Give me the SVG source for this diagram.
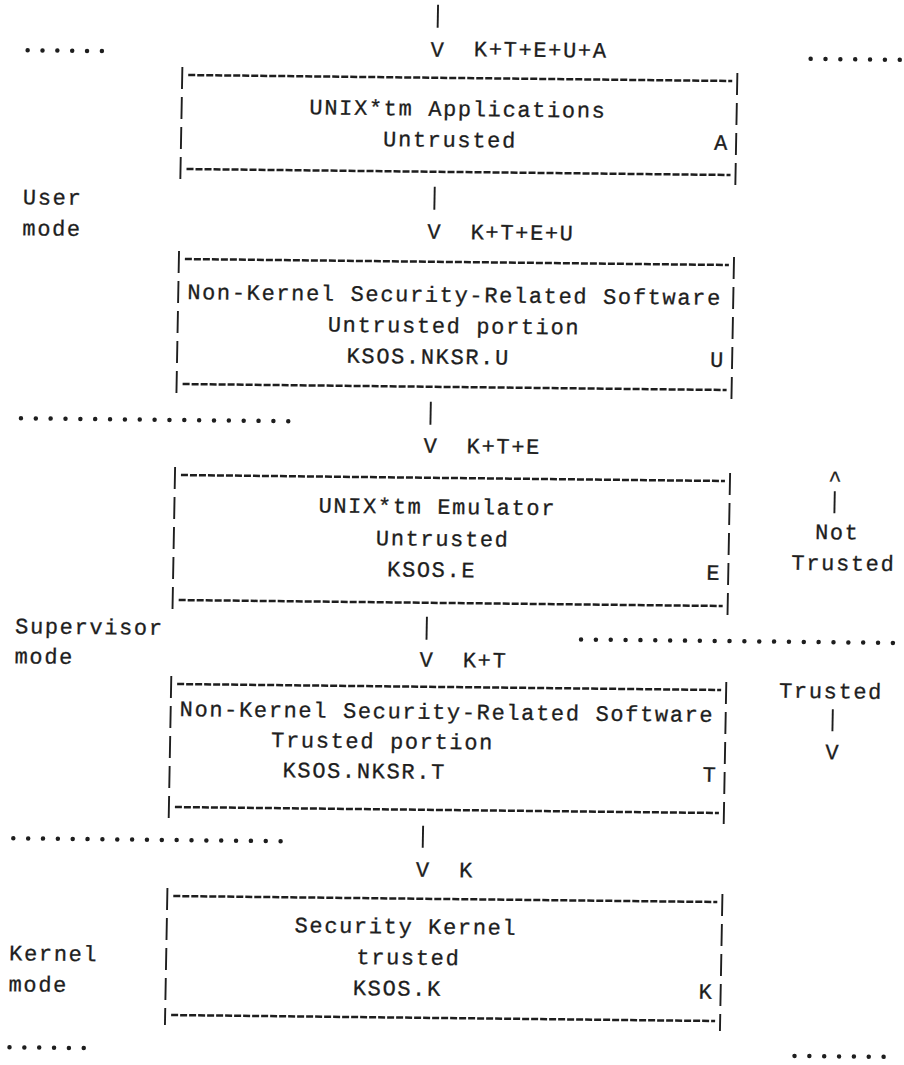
<svg xmlns="http://www.w3.org/2000/svg" width="904" height="1065" viewBox="0 0 904 1065">
<style>
text { font-family: "Liberation Mono", "DejaVu Sans Mono", monospace; font-size: 22px; letter-spacing: 1.65px; fill: #1e1e1e; stroke: #1e1e1e; stroke-width: 0.3px; }
.side { stroke: #1e1e1e; stroke-width: 1.9; stroke-dasharray: 22 8; fill: none; }
.edge { stroke: #1e1e1e; stroke-width: 2.5; stroke-dasharray: 7 2; fill: none; }
.bar { stroke: #1e1e1e; stroke-width: 1.9; fill: none; }
.dots { stroke: #1e1e1e; stroke-width: 4.5; stroke-linecap: round; stroke-dasharray: 0 14.85; fill: none; }
</style>
<rect width="904" height="1065" fill="#ffffff"/>
<g transform="matrix(1 0.011 -0.0182 1 9.65 -4.95)">
  <g id="separators">
    <line class="dots" x1="19" y1="55" x2="94.25" y2="55"/>
    <line class="dots" x1="802" y1="55" x2="892.1" y2="55"/>
    <line class="dots" x1="19" y1="423" x2="287.3" y2="423"/>
    <line class="dots" x1="583" y1="638" x2="895" y2="638"/>
    <line class="dots" x1="19" y1="843" x2="287.3" y2="843"/>
    <line class="dots" x1="19" y1="1052" x2="94.25" y2="1052"/>
    <line class="dots" x1="804" y1="1052" x2="894.1" y2="1052"/>
  </g>
  <g id="mode-labels">
    <text x="17" y="209">User</text>
    <text x="17" y="240">mode</text>
    <text x="17" y="638">Supervisor</text>
    <text x="17" y="668">mode</text>
    <text x="17" y="965">Kernel</text>
    <text x="17" y="996">mode</text>
  </g>
  <g id="box-applications">
    <line class="side" x1="174" y1="70" x2="174" y2="182"/>
    <line class="side" x1="729" y1="70" x2="729" y2="182"/>
    <line class="edge" x1="180" y1="78" x2="724" y2="78"/>
    <line class="edge" x1="180" y1="172" x2="724" y2="172"/>
    <text x="301.8" y="116">UNIX*tm Applications</text>
    <text x="376.1" y="147">Untrusted</text>
    <text x="707" y="147">A</text>
  </g>
  <g id="box-nksr-untrusted">
    <line class="side" x1="174" y1="254" x2="174" y2="397"/>
    <line class="side" x1="729" y1="254" x2="729" y2="397"/>
    <line class="edge" x1="180" y1="262" x2="724" y2="262"/>
    <line class="edge" x1="180" y1="387" x2="724" y2="387"/>
    <text x="183" y="302">Non-Kernel Security-Related Software</text>
    <text x="324.1" y="333">Untrusted portion</text>
    <text x="343.4" y="364">KSOS.NKSR.U</text>
    <text x="707" y="364">U</text>
  </g>
  <g id="box-emulator">
    <line class="side" x1="174" y1="470" x2="174" y2="613"/>
    <line class="side" x1="729" y1="470" x2="729" y2="613"/>
    <line class="edge" x1="180" y1="478" x2="724" y2="478"/>
    <line class="edge" x1="180" y1="603" x2="724" y2="603"/>
    <text x="318.1" y="514">UNIX*tm Emulator</text>
    <text x="376.1" y="546">Untrusted</text>
    <text x="387.9" y="577">KSOS.E</text>
    <text x="707" y="577">E</text>
  </g>
  <g id="box-nksr-trusted">
    <line class="side" x1="174" y1="679" x2="174" y2="821"/>
    <line class="side" x1="729" y1="679" x2="729" y2="821"/>
    <line class="edge" x1="180" y1="687" x2="724" y2="687"/>
    <line class="edge" x1="180" y1="810" x2="724" y2="810"/>
    <text x="183" y="719">Non-Kernel Security-Related Software</text>
    <text x="275.1" y="749">Trusted portion</text>
    <text x="287" y="779">KSOS.NKSR.T</text>
    <text x="707" y="779">T</text>
  </g>
  <g id="box-kernel">
    <line class="side" x1="174" y1="891" x2="174" y2="1028"/>
    <line class="side" x1="729" y1="891" x2="729" y2="1028"/>
    <line class="edge" x1="180" y1="899" x2="724" y2="899"/>
    <line class="edge" x1="180" y1="1018" x2="724" y2="1018"/>
    <text x="301.8" y="934">Security Kernel</text>
    <text x="364.2" y="965">trusted</text>
    <text x="361.2" y="996">KSOS.K</text>
    <text x="707" y="996">K</text>
  </g>
  <g id="trust-labels">
    <text x="815" y="535">Not</text>
    <text x="792" y="566">Trusted</text>
    <text x="782" y="694">Trusted</text>
  </g>
  <g id="connectors">
    <line class="bar" x1="428.5" y1="5" x2="428.5" y2="28"/>
    <text x="422" y="57">V</text>
    <text x="465.2" y="56">K+T+E+U+A</text>
    <line class="bar" x1="428.5" y1="187" x2="428.5" y2="210"/>
    <text x="422" y="239">V</text>
    <text x="465.2" y="239">K+T+E+U</text>
    <line class="bar" x1="428.5" y1="402" x2="428.5" y2="425"/>
    <text x="422" y="453">V</text>
    <text x="465.2" y="453">K+T+E</text>
    <line class="bar" x1="428.5" y1="617" x2="428.5" y2="640"/>
    <text x="422" y="667">V</text>
    <text x="465.2" y="667">K+T</text>
    <line class="bar" x1="428.5" y1="826" x2="428.5" y2="848"/>
    <text x="422" y="877">V</text>
    <text x="465.2" y="877">K</text>
    <text x="827.4" y="482">^</text>
    <line class="bar" x1="834" y1="487" x2="834" y2="509"/>
    <line class="bar" x1="836" y1="705" x2="836" y2="727"/>
    <text x="829.4" y="755">V</text>
  </g>
</g>
</svg>
